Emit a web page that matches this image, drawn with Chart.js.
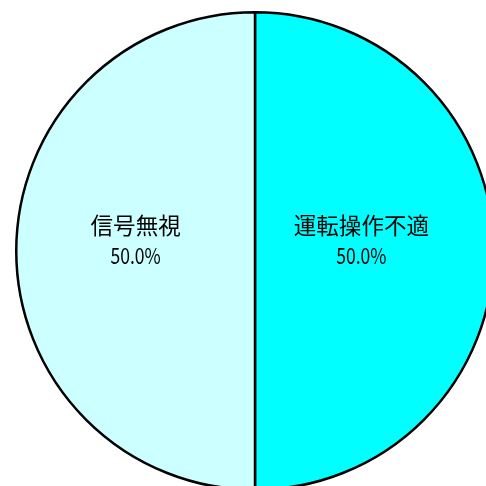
<!DOCTYPE html>
<html><head><meta charset="utf-8">
<script src="https://cdn.jsdelivr.net/npm/chart.js@4"></script>
<style>
html,body{margin:0;padding:0;background:#fff;overflow:hidden;width:486px;height:486px;}
#wrap{position:absolute;left:0;top:0;width:510px;height:500px;}
</style></head><body>
<div id="wrap"><canvas id="c"></canvas></div>
<script>
const categories = ['運転操作不適', '信号無視'];
const values = [50, 50];
const percentLabels = ['50.0%', '50.0%'];
const colors = ['#00FFFF', '#CCFFFF'];

const labelPlugin = {
  id: 'sliceLabels',
  afterDatasetsDraw(chart) {
    const ctx = chart.ctx;
    const meta = chart.getDatasetMeta(0);
    meta.data.forEach((arc, i) => {
      const p = arc.getCenterPoint();
      const x = p.x + (p.x > arc.x ? -13 : 0);
      ctx.save();
      ctx.fillStyle = '#000';
      ctx.textAlign = 'center';
      ctx.textBaseline = 'middle';
      ctx.font = '22.5px "Noto Sans CJK JP"';
      ctx.fillText(categories[i], x, p.y - 26);
      ctx.translate(x, p.y + 5);
      ctx.scale(0.8, 1);
      ctx.font = '22px "Noto Sans CJK JP"';
      ctx.fillText(percentLabels[i], 0, 0);
      ctx.restore();
    });
  }
};

new Chart(document.getElementById('c'), {
  type: 'pie',
  data: {
    labels: categories,
    datasets: [{
      data: values,
      backgroundColor: colors,
      borderColor: '#000',
      borderWidth: 2.5,
      hoverOffset: 0
    }]
  },
  options: {
    responsive: true,
    maintainAspectRatio: false,
    animation: false,
    layout: { padding: { left: 15, right: 15, top: 11, bottom: 9 } },
    plugins: { legend: { display: false }, tooltip: { enabled: false } }
  },
  plugins: [labelPlugin]
});
</script>
</body></html>
